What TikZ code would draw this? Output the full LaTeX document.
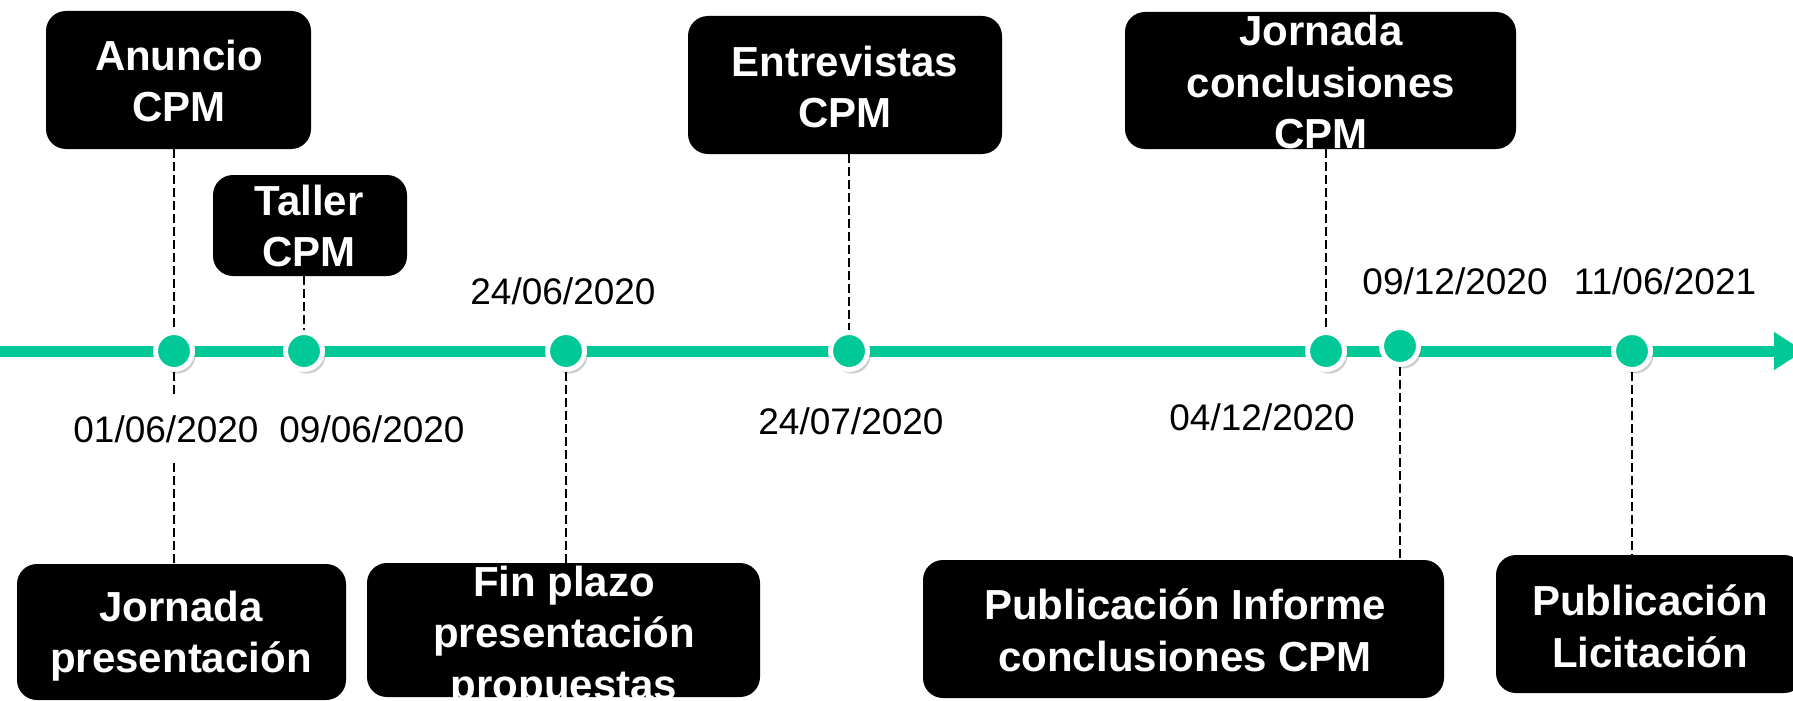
\documentclass[tikz,border=0pt]{standalone}
\usepackage{fontspec}
\setmainfont{Liberation Sans}
\usetikzlibrary{arrows.meta,shadows}
\definecolor{verde}{RGB}{0,200,150}

\begin{document}
\begin{tikzpicture}[x=0.5pt,y=-0.5pt,
  evento/.style={fill=black, rounded corners=10pt, inner sep=0pt},
  etiqueta/.style={text=white, align=center, inner sep=0pt, font=\bfseries\fontsize{21}{25.8}\selectfont},
  fecha/.style={fill=white, inner xsep=2pt, inner ysep=9pt, font=\fontsize{18.5}{22}\selectfont},
  hito/.style={circle, fill=verde, draw=white, line width=2.5pt, minimum size=18.5pt, inner sep=0pt,
    drop shadow={shadow xshift=1.5pt, shadow yshift=-2pt, opacity=.4}},
  guia/.style={black, line width=1pt, dash pattern=on 4.5pt off 2pt}]
\useasboundingbox (0,0) rectangle (1793,701);
\clip (0,0) rectangle (1793,701);

% linea de tiempo
\coordinate (inicio) at (-10,351);
\coordinate (fin) at (1804,351);
\draw[verde, line width=5.5pt, -{Triangle[length=15pt,width=18pt]}] (inicio) -- (fin);

% cajas de arriba
\node[evento, minimum width=132.5pt, minimum height=69pt] (anuncio) at (178.5,80) {};
\node[evento, minimum width=97pt, minimum height=50.5pt] (taller) at (310,225.5) {};
\node[evento, minimum width=157pt, minimum height=69pt] (entrevistas) at (845,85) {};
\node[evento, minimum width=195.5pt, minimum height=68.5pt] (jornadaC) at (1320.5,80.5) {};

% cajas de abajo
\node[evento, minimum width=164.5pt, minimum height=68pt] (jornadaP) at (181.5,632) {};
\node[evento, minimum width=196.5pt, minimum height=67pt] (finPlazo) at (563.5,630) {};
\node[evento, minimum width=260.5pt, minimum height=69pt] (pubInforme) at (1183.5,629) {};
\node[evento, minimum width=154pt, minimum height=69pt] (pubLicitacion) at (1650,624) {};

% hitos
\node[hito] (d1) at (174,351) {};
\node[hito] (d2) at (304,351) {};
\node[hito] (d3) at (566,351) {};
\node[hito] (d4) at (849,351) {};
\node[hito] (d5) at (1326,351) {};
\node[hito] (d6) at (1400,346) {};
\node[hito] (d7) at (1632,351) {};

\draw[guia] (d1 |- anuncio.south) -- (d1);
\draw[guia] (d1) -- (d1 |- jornadaP.north);
\draw[guia] (d2 |- taller.south) -- (d2);
\draw[guia] (d3) -- (d3 |- finPlazo.north);
\draw[guia] (d4 |- entrevistas.south) -- (d4);
\draw[guia] (d5 |- jornadaC.south) -- (d5);
\draw[guia] (d6) -- (d6 |- pubInforme.north);
\draw[guia] (d7) -- (d7 |- pubLicitacion.north);

% fechas
\node[fecha] (f1) at (166,429) {01/06/2020};
\node[fecha] (f2) at (372,429) {09/06/2020};
\node[fecha] (f3) at (563,291) {24/06/2020};
\node[fecha] (f4) at (851,421) {24/07/2020};
\node[fecha] (f5) at (1262,417) {04/12/2020};
\node[fecha] (f6) at (1455,281) {09/12/2020};
\node[fecha] (f7) at (1665,281) {11/06/2021};

% textos de las cajas
\node[etiqueta] (anuncio-t) at (179,81) {Anuncio\\CPM};
\node[etiqueta] (taller-t) at (309,226) {Taller\\CPM};
\node[etiqueta] (entrevistas-t) at (845,87) {Entrevistas\\CPM};
\node[etiqueta] (jornadaC-t) at (1321,82) {Jornada\\conclusiones\\CPM};
\node[etiqueta] (jornadaP-t) at (181,636) {Jornada\\presentación};
\node[etiqueta] (finPlazo-t) at (564,637) {Fin plazo\\presentación\\propuestas};
\node[etiqueta] (pubInforme-t) at (1185,630) {Publicación Informe\\conclusiones CPM};
\node[etiqueta] (pubLicitacion-t) at (1650,626) {Publicación\\Licitación};
\end{tikzpicture}
\end{document}
